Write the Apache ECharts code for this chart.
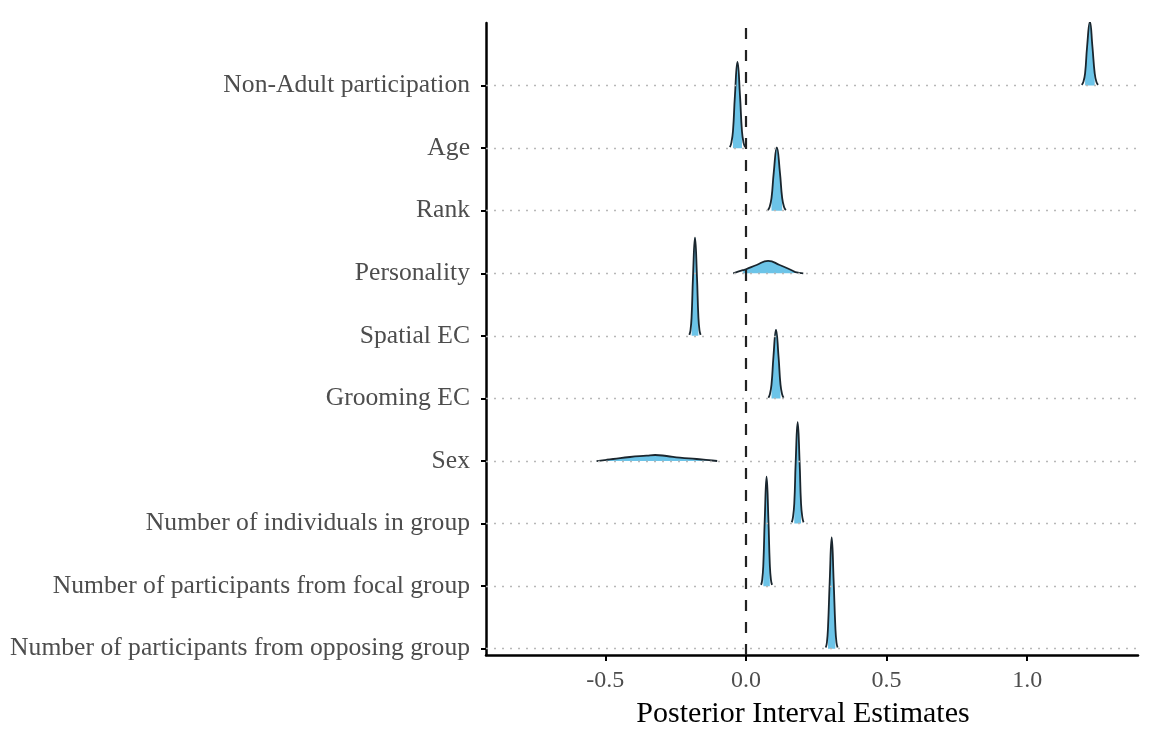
<!DOCTYPE html>
<html>
<head>
<meta charset="utf-8">
<script src="https://cdn.jsdelivr.net/npm/echarts@6/dist/echarts.min.js"></script>
<style>
  html, body { margin: 0; padding: 0; background: #fff; }
  #chart { width: 1150px; height: 738px; }
</style>
</head>
<body>
<div id="chart"></div>
<script>
const chart = echarts.init(document.getElementById('chart'))

// rows from bottom (0) to top (9)
const rowNames = [
  'Number of participants from opposing group',
  'Number of participants from focal group',
  'Number of individuals in group',
  'Sex',
  'Grooming EC',
  'Spatial EC',
  'Personality',
  'Rank',
  'Age',
  'Non-Adult participation'
]

// density outlines: [estimate, height above the row line]
const opposing = [[0.284,0.02],[0.288,0.10],[0.292,0.35],[0.298,1.08],[0.305,1.78],[0.312,1.08],[0.318,0.35],[0.322,0.10],[0.326,0.02]]
const focal = [[0.054,0.02],[0.058,0.10],[0.062,0.35],[0.067,1.06],[0.0735,1.75],[0.080,1.06],[0.085,0.35],[0.089,0.10],[0.093,0.02]]
const individuals = [[0.163,0.02],[0.167,0.09],[0.172,0.32],[0.177,0.98],[0.184,1.62],[0.191,0.98],[0.196,0.32],[0.201,0.09],[0.205,0.02]]
const sex = [[-0.531,0],[-0.495,0.02],[-0.472,0.032],[-0.412,0.064],[-0.353,0.085],[-0.323,0.096],[-0.282,0.08],[-0.235,0.053],[-0.175,0.032],[-0.12,0.008],[-0.102,0]]
const grooming = [[0.080,0.012],[0.085,0.062],[0.091,0.22],[0.098,0.67],[0.107,1.10],[0.116,0.67],[0.123,0.22],[0.129,0.062],[0.134,0.012]]
const spatial = [[-0.201,0.017],[-0.197,0.088],[-0.193,0.31],[-0.188,0.95],[-0.181,1.57],[-0.174,0.95],[-0.169,0.31],[-0.165,0.088],[-0.161,0.017]]
const personality = [[-0.045,0],[-0.011,0.05],[0.0,0.064],[0.038,0.133],[0.079,0.197],[0.120,0.133],[0.168,0.037],[0.176,0.02],[0.204,0]]
const rank = [[0.078,0.011],[0.084,0.057],[0.091,0.20],[0.099,0.61],[0.110,1.01],[0.121,0.61],[0.129,0.20],[0.136,0.057],[0.142,0.011]]
const age = [[-0.057,0.015],[-0.052,0.08],[-0.046,0.27],[-0.039,0.84],[-0.030,1.38],[-0.021,0.84],[-0.014,0.27],[-0.008,0.08],[-0.003,0.015]]
const nonAdult = [[1.194,0.01],[1.200,0.06],[1.206,0.20],[1.213,0.62],[1.223,1.02],[1.232,0.62],[1.240,0.20],[1.246,0.06],[1.252,0.01]]

const densities = [opposing, focal, individuals, sex, grooming, spatial, personality, rank, age, nonAdult]

// shaded inner interval of each row
const innerBounds = [
  [0.292, 0.318], [0.062, 0.085], [0.172, 0.196], [-0.495, -0.12], [0.091, 0.123],
  [-0.193, -0.169], [-0.011, 0.176], [0.091, 0.129], [-0.046, -0.014], [1.206, 1.240]
]

const xTicks = [-0.5, 0, 0.5, 1.0]
const rowTicks = [0, 1, 2, 3, 4, 5, 6, 7, 8, 9]

const serif = "'Liberation Serif', 'DejaVu Serif', serif"
const fillColor = '#6cc4e8'
const lineColor = '#1a262e'

let series = []

// dotted row lines
series.push({
  type: 'line',
  data: [[0, 0]],
  symbol: 'none',
  lineStyle: { width: 0 },
  z: 1,
  silent: true,
  markLine: {
    silent: true,
    symbol: ['none', 'none'],
    label: { show: false },
    lineStyle: { type: [2, 6], color: '#b8b8b8', width: 1.3 },
    data: rowTicks.map(i => ({ yAxis: i }))
  }
})

densities.forEach((pts, row) => {
  let lo = innerBounds[row][0]
  let hi = innerBounds[row][1]
  series.push({
    type: 'line',
    data: pts.filter(p => p[0] >= lo && p[0] <= hi).map(p => [p[0], row + p[1]]),
    smooth: true,
    symbol: 'none',
    lineStyle: { width: 0 },
    areaStyle: { color: fillColor, opacity: 1, origin: row },
    z: 3,
    silent: true
  })
  series.push({
    type: 'line',
    data: pts.map(p => [p[0], row + p[1]]),
    smooth: true,
    symbol: 'none',
    lineStyle: { color: lineColor, width: 1.8 },
    z: 4,
    silent: true
  })
})

// dashed zero line
series.push({
  type: 'line',
  data: [[0, 0]],
  symbol: 'none',
  lineStyle: { width: 0 },
  z: 10,
  silent: true,
  markLine: {
    silent: true,
    symbol: ['none', 'none'],
    label: { show: false },
    lineStyle: { type: [11, 11], color: '#222', width: 2.2 },
    data: [{ xAxis: 0 }]
  }
})

let option = {
  backgroundColor: '#fff',
  animation: false,
  grid: { left: 486, right: 12, top: 23, bottom: 83 },
  xAxis: {
    type: 'value',
    min: -0.924,
    max: 1.394,
    splitLine: { show: false },
    axisLine: { onZero: false, lineStyle: { color: '#000', width: 2.5 } },
    axisTick: { customValues: xTicks, length: 6, lineStyle: { color: '#000', width: 2 } },
    axisLabel: {
      customValues: xTicks,
      formatter: v => v.toFixed(1),
      fontFamily: serif,
      fontSize: 24,
      color: '#4d4d4d',
      margin: 14
    },
    name: 'Posterior Interval Estimates',
    nameLocation: 'middle',
    nameGap: 44,
    nameTextStyle: { fontFamily: serif, fontSize: 30, color: '#000', padding: [0, 18, 0, 0] }
  },
  yAxis: {
    type: 'value',
    min: -0.1,
    max: 10,
    splitLine: { show: false },
    axisLine: { onZero: false, lineStyle: { color: '#000', width: 2.5 } },
    axisTick: { customValues: rowTicks, length: 5, lineStyle: { color: '#000', width: 2 } },
    axisLabel: {
      customValues: rowTicks,
      formatter: v => rowNames[Math.round(v)],
      fontFamily: serif,
      fontSize: 25.6,
      color: '#4d4d4d',
      margin: 16,
      padding: [4, 0, 0, 0]
    }
  },
  series: series
}
chart.setOption(option)
</script>
</body>
</html>
